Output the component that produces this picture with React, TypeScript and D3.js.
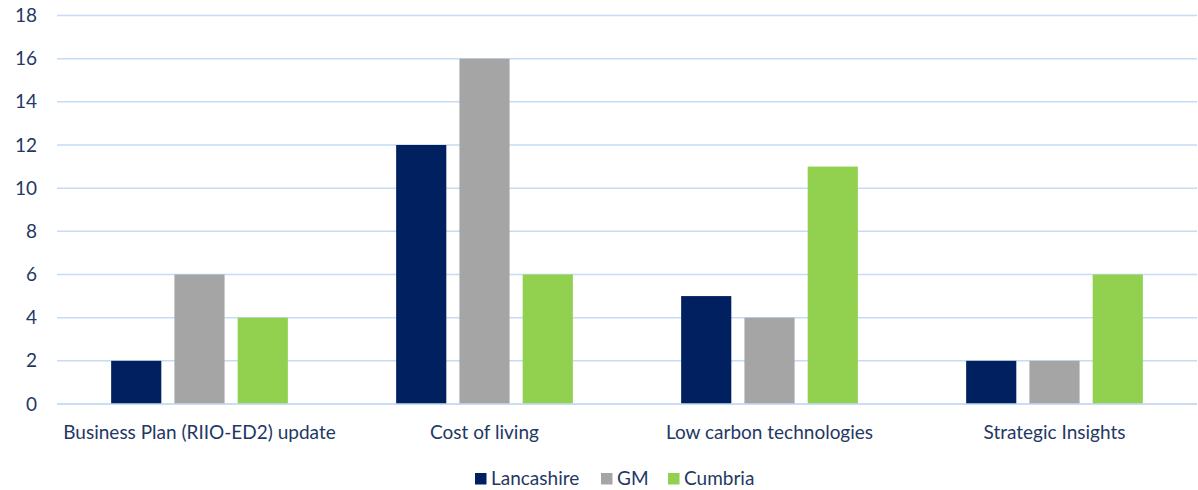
import React from "react";
import * as d3 from "d3";

const categories = [
  "Business Plan (RIIO-ED2) update",
  "Cost of living",
  "Low carbon technologies",
  "Strategic Insights",
];
const seriesNames = ["Lancashire", "GM", "Cumbria"];
const lancashire = [2, 12, 5, 2];
const gm = [6, 16, 4, 2];
const cumbria = [4, 6, 11, 6];
const yTicks = [0, 2, 4, 6, 8, 10, 12, 14, 16, 18];

const colors = ["#002060", "#A5A5A5", "#92D050"];
const textColor = "#1F3864";
const font = "Lato, 'Open Sans', sans-serif";
const fs = 19;

const W = 1198;
const H = 490;
const left = 57;
const right = 1197;
const top = 15.5;
const bottom = 404;

export default function App() {
  const values = [lancashire, gm, cumbria];
  const x = d3.scaleBand<string>().domain(categories).range([left, right]).paddingInner(0).paddingOuter(0);
  const y = d3.scaleLinear().domain([0, 18]).range([bottom, top]);
  const step = x.bandwidth() * 0.222;
  const barW = x.bandwidth() * 0.176;

  const legendItems = [
    { name: seriesNames[0], x: 475 },
    { name: seriesNames[1], x: 601 },
    { name: seriesNames[2], x: 668 },
  ];

  return (
    <svg width={W} height={H} style={{ position: "absolute", left: 0, top: 0, background: "#fff" }}>
      {yTicks.map((t) => (
        <g key={t}>
          <line x1={left} x2={right} y1={y(t)} y2={y(t)} stroke="#C6DBF5" strokeWidth={1.5} />
          <text x={37} y={y(t)} dy="0.35em" textAnchor="end" fontFamily={font} fontSize={fs} fill={textColor}>
            {t}
          </text>
        </g>
      ))}
      {categories.map((c, i) => {
        const cx = (x(c) as number) + x.bandwidth() / 2;
        return (
          <g key={c}>
            {values.map((vals, s) => (
              <rect
                key={s}
                x={cx + (s - 1) * step - barW / 2}
                y={y(vals[i])}
                width={barW}
                height={y(0) - y(vals[i])}
                fill={colors[s]}
              />
            ))}
            <text x={cx} y={439} textAnchor="middle" fontFamily={font} fontSize={fs} fill={textColor}>
              {c}
            </text>
          </g>
        );
      })}
      <line x1={left} x2={right} y1={y(0)} y2={y(0)} stroke="#C6DBF5" strokeWidth={1.5} />
      {legendItems.map((it, s) => (
        <g key={it.name}>
          <rect x={it.x} y={473} width={11.5} height={11.5} fill={colors[s]} />
          <text x={it.x + 16} y={485} fontFamily={font} fontSize={fs} fill={textColor}>
            {it.name}
          </text>
        </g>
      ))}
    </svg>
  );
}
